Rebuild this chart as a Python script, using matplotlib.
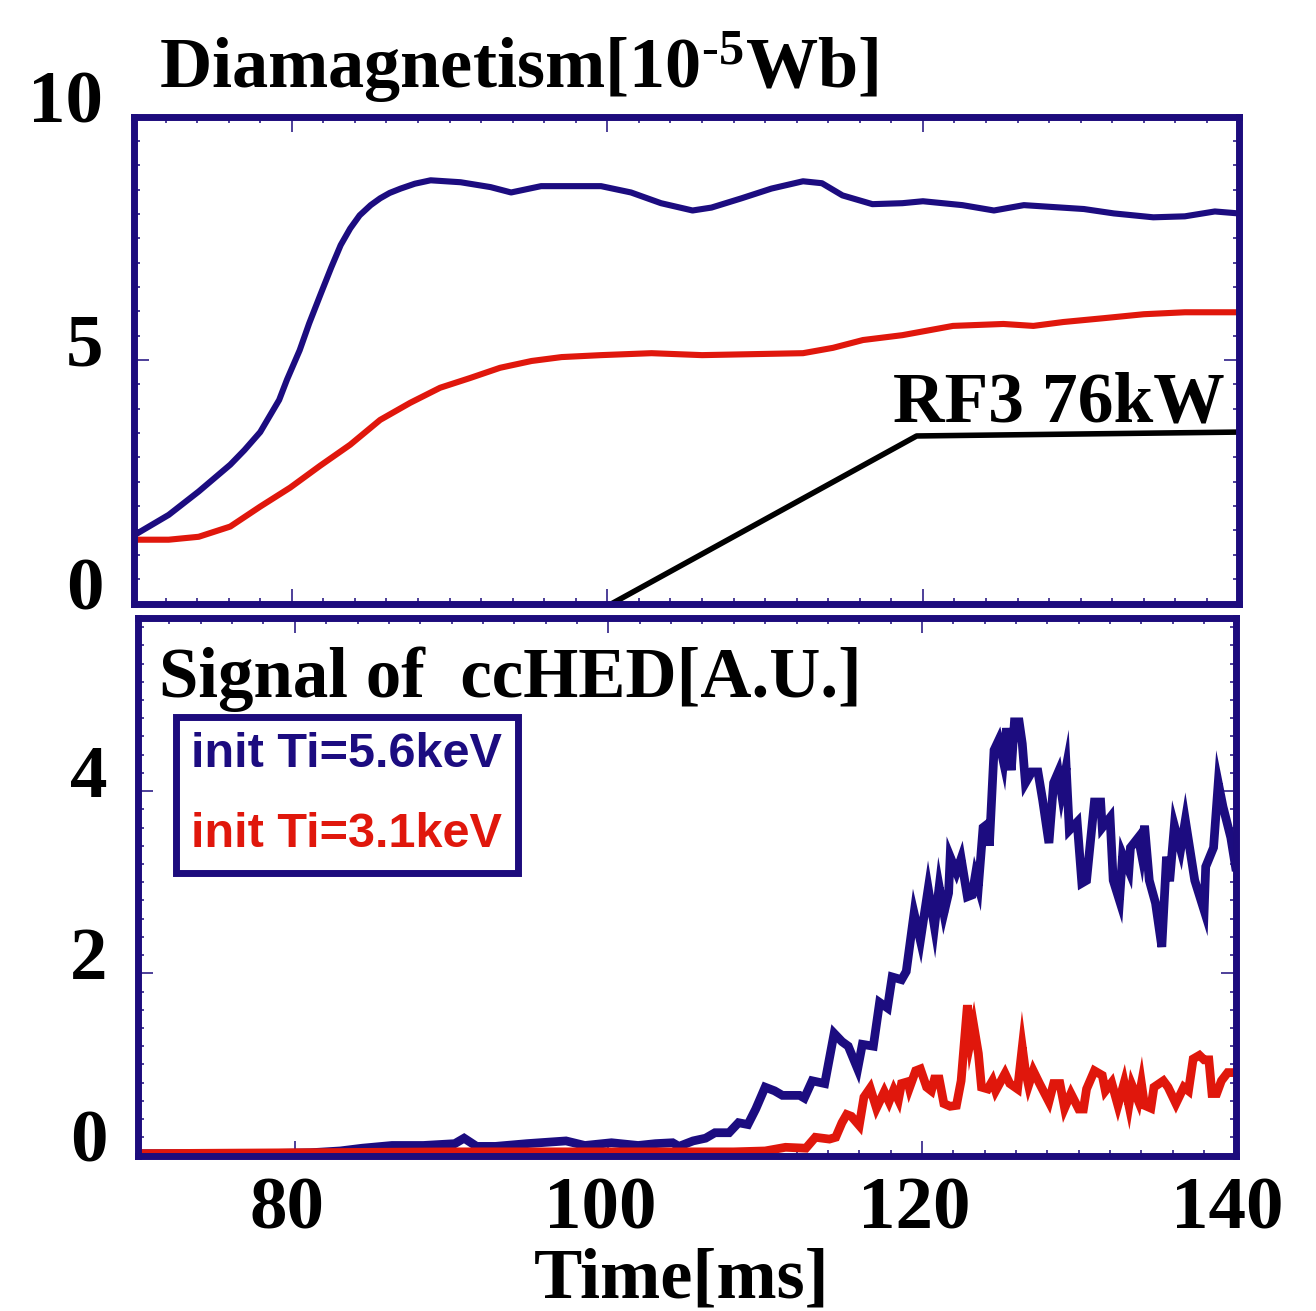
import matplotlib
matplotlib.use('Agg')
import matplotlib.pyplot as plt
import matplotlib.transforms as mtransforms
from matplotlib.ticker import MultipleLocator

NAVY = '#1d0c7d'
BLUE = '#1c0c80'
RED = '#e0170c'

# --- diamagnetism (upper panel) ---
t_dia_hi = [70, 72.2, 74.1, 76.1, 77.0, 78.0, 79.2, 79.7, 80.5, 81.1, 81.8, 82.5, 83.1,
            83.7, 84.3, 85.0, 85.6, 86.2, 86.9, 87.8, 88.8,
            90.7, 92.6, 93.9, 95.8, 97.7, 99.6, 101.5, 103.4, 105.4, 106.6, 108.5, 110.4,
            112.4, 113.6, 114.9, 116.8, 118.7, 120.0, 122.5, 124.5, 126.4, 128.3, 130.2,
            132.1, 134.6, 136.6, 138.5, 140]
dia_hi = [1.40, 1.82, 2.30, 2.85, 3.15, 3.52, 4.18, 4.60, 5.20, 5.75, 6.33, 6.90, 7.36,
          7.70, 7.97, 8.18, 8.32, 8.43, 8.52, 8.62, 8.69,
          8.65, 8.55, 8.44, 8.57, 8.57, 8.57, 8.44, 8.22, 8.07, 8.13, 8.32, 8.52,
          8.67, 8.63, 8.38, 8.20, 8.22, 8.26, 8.18, 8.07, 8.18, 8.14, 8.10,
          8.01, 7.93, 7.95, 8.05, 8.01]

t_dia_lo = [70, 72.2, 74.1, 76.1, 78.0, 79.9, 81.8, 83.7, 85.6, 87.5, 89.4, 91.3, 93.2,
            95.2, 97.1, 99.6, 102.8, 106.0, 109.2, 112.4, 114.3, 116.2, 118.7, 121.9,
            125.1, 127.0, 128.9, 131.5, 134.0, 136.6, 140]
dia_lo = [1.31, 1.31, 1.37, 1.58, 1.99, 2.38, 2.83, 3.26, 3.77, 4.12, 4.43, 4.63, 4.84,
          4.98, 5.06, 5.10, 5.14, 5.10, 5.12, 5.14, 5.25, 5.41, 5.51, 5.70,
          5.74, 5.70, 5.78, 5.86, 5.94, 5.98, 5.98]

# RF power waveform (drawn on the upper panel)
t_rf = [100.3, 119.6, 140]
rf = [0.0, 3.44, 3.52]

# --- ccHED signal (lower panel) ---
t_hed_hi = [70, 74, 78, 81, 82.9, 84.3, 86.2, 88.2, 90.2, 90.8, 91.6, 92.8, 94.8, 97.3,
            98.5, 100.2, 101.9, 103.0, 104.1, 104.5, 105.4, 106.2, 106.8, 107.7, 108.3,
            108.9, 109.4, 110.0, 110.6, 111.1, 112.2, 112.5, 113.0, 113.8, 114.4, 114.9,
            115.3, 115.9, 116.2, 116.9, 117.3, 117.8, 118.1, 118.7, 119.0, 119.5, 119.9,
            120.4, 120.8, 121.1, 121.4, 121.7, 121.8, 122.2, 122.5, 122.9, 123.2, 123.4,
            123.6, 123.9, 124.2, 124.3, 124.6, 124.9, 125.2, 125.4, 125.7, 125.9, 126.2,
            126.4, 126.6, 127.0, 127.4, 127.7, 128.1, 128.4, 128.7, 128.9, 129.2, 129.4,
            129.9, 130.2, 130.5, 131.0, 131.4, 131.5, 132.0, 132.2, 132.6, 132.8, 133.2,
            133.3, 133.8, 134.0, 134.2, 134.5, 134.9, 135.3, 135.6, 135.8, 136.1, 136.5,
            136.8, 137.1, 137.4, 138.0, 138.1, 138.6, 138.9, 139.2, 139.7, 140.0]
hed_hi = [0.02, 0.02, 0.02, 0.03, 0.05, 0.08, 0.11, 0.11, 0.13, 0.19, 0.10, 0.10, 0.13, 0.16,
          0.11, 0.14, 0.11, 0.13, 0.14, 0.10, 0.16, 0.19, 0.25, 0.25, 0.36,
          0.34, 0.51, 0.75, 0.71, 0.66, 0.66, 0.63, 0.82, 0.79, 1.34, 1.25,
          1.20, 0.95, 1.22, 1.20, 1.68, 1.62, 1.96, 1.93, 2.02, 2.66, 2.36,
          2.93, 2.51, 2.95, 2.66, 2.88, 3.28, 3.11, 3.26, 2.84, 2.86, 3.07,
          2.95, 3.60, 3.64, 3.40, 4.45, 4.56, 4.32, 4.69, 4.23, 4.76, 4.76,
          4.52, 4.09, 4.21, 4.21, 3.90, 3.43, 4.09, 4.21, 3.98, 4.26, 3.57,
          3.66, 2.99, 3.02, 3.88, 3.88, 3.60, 3.71, 3.02, 2.80, 3.30, 3.13,
          3.38, 3.49, 3.31, 3.62, 3.02, 2.77, 2.29, 3.28, 3.01, 3.62, 3.36,
          3.68, 3.35, 3.02, 2.69, 3.17, 3.38, 4.09, 3.83, 3.49, 3.17]

t_hed_lo = [70, 80, 90, 100, 108, 110, 111.3, 112.6, 113.2, 114.1, 114.5, 114.9, 115.2,
            115.5, 116.0, 116.3, 116.7, 117.1, 117.6, 117.9, 118.2, 118.5, 118.7, 119.1,
            119.2, 119.6, 119.9, 120.3, 120.6, 120.8, 121.1, 121.4, 121.8, 122.2, 122.5,
            122.9, 123.1, 123.3, 123.6, 123.8, 124.2, 124.5, 124.7, 125.3, 125.6, 126.1,
            126.4, 126.6, 126.8, 127.1, 127.5, 128.1, 128.4, 128.8, 129.1, 129.5, 130.0,
            130.3, 130.5, 131.0, 131.5, 131.7, 132.1, 132.5, 132.9, 133.2, 133.4, 133.8,
            134.0, 134.2, 134.6, 134.8, 135.4, 135.7, 136.2, 136.7, 137.0, 137.3, 137.7,
            138.0, 138.3, 138.5, 138.8, 139.1, 139.5, 140.0]
hed_lo = [0.02, 0.03, 0.04, 0.04, 0.04, 0.05, 0.09, 0.08, 0.20, 0.18, 0.20, 0.36, 0.45,
          0.43, 0.33, 0.64, 0.74, 0.52, 0.70, 0.59, 0.72, 0.61, 0.79, 0.81,
          0.74, 0.93, 0.95, 0.75, 0.71, 0.84, 0.84, 0.57, 0.54, 0.55, 0.82,
          1.65, 1.26, 1.43, 1.12, 0.75, 0.73, 0.82, 0.71, 0.90, 0.79, 0.73,
          1.19, 0.93, 0.77, 0.93, 0.79, 0.59, 0.79, 0.79, 0.52, 0.68, 0.51,
          0.51, 0.73, 0.93, 0.88, 0.71, 0.80, 0.55, 0.80, 0.55, 0.77, 0.60,
          0.79, 0.55, 0.52, 0.75, 0.82, 0.75, 0.57, 0.75, 0.71, 1.06, 1.10,
          1.05, 1.05, 0.68, 0.68, 0.82, 0.91, 0.91]

labels = ['init Ti=5.6keV', 'init Ti=3.1keV']

plt.rcParams['font.family'] = 'Liberation Serif'
plt.rcParams['font.weight'] = 'bold'
plt.rcParams['mathtext.fontset'] = 'custom'
plt.rcParams['mathtext.rm'] = 'Liberation Serif:bold'
plt.rcParams['mathtext.default'] = 'rm'

W, H = 1316, 1311
fig = plt.figure(figsize=(W / 100, H / 100), dpi=100)


def box(l, t, r, b):
    return [l / W, 1 - b / H, (r - l) / W, (b - t) / H]


ax1 = fig.add_axes(box(134, 116.5, 1238.5, 603.5))
ax2 = fig.add_axes(box(138, 618, 1235.5, 1155.5))

for ax in (ax1, ax2):
    ax.set_xlim(70, 140)
    ax.xaxis.set_major_locator(MultipleLocator(20))
    ax.xaxis.set_minor_locator(MultipleLocator(2))
    for sp in ax.spines.values():
        sp.set_linewidth(5)
        sp.set_color(NAVY)
    ax.tick_params(which='both', direction='in', top=True, right=True,
                   color=NAVY, width=1.1, labelsize=54, pad=22)
    ax.tick_params(which='major', length=10.5)
    ax.tick_params(which='minor', length=4.3)

ax1.set_ylim(0, 10)
ax1.yaxis.set_major_locator(MultipleLocator(5))
ax1.yaxis.set_minor_locator(MultipleLocator(0.5))
ax1.tick_params(labelbottom=False)

ax2.set_ylim(0, 5.9)
ax2.yaxis.set_major_locator(MultipleLocator(2))
ax2.yaxis.set_minor_locator(MultipleLocator(0.2))
ax2.tick_params(axis='x', pad=15)

ax1.plot(t_dia_hi, dia_hi, color=BLUE, lw=4.4)
ax1.plot(t_dia_lo, dia_lo, color=RED, lw=4.4)
ax1.plot(t_rf, rf, color='black', lw=4.0, solid_capstyle='butt')
ax1.text(118.1, 3.73, 'RF3 76kW', fontsize=51.5, ha='left', va='baseline')

ax2.plot(t_hed_hi, hed_hi, color=BLUE, lw=6.3, label=labels[0], solid_joinstyle='miter')
ax2.plot(t_hed_lo, hed_lo, color=RED, lw=6.3, label=labels[1], solid_joinstyle='miter')

# shift tick labels like the original
up = mtransforms.ScaledTranslation(0, 0.20, fig.dpi_scale_trans)
left = mtransforms.ScaledTranslation(-0.08, 0, fig.dpi_scale_trans)
fig.canvas.draw()
for ax in (ax1, ax2):
    for lab in ax.get_yticklabels():
        lab.set_transform(lab.get_transform() + up)
for lab in ax2.get_xticklabels():
    lab.set_transform(lab.get_transform() + left)

ax2.set_xlabel('Time[ms]', fontsize=52, fontweight='bold')
ax2.xaxis.set_label_coords(0.4957, -0.2635)
ax2.xaxis.label.set_va('baseline')

fig.text(159 / W, 1 - 88 / H, 'Diamagnetism[10$^{\u20105}$Wb]', fontsize=52,
         ha='left', va='baseline')
fig.text(159 / W, 1 - 697 / H, 'Signal of  ccHED[A.U.]', fontsize=51,
         ha='left', va='baseline')

leg = ax2.legend(loc='upper left', bbox_to_anchor=(0.0342, 0.8167), borderaxespad=0,
                 prop=dict(family='Liberation Sans', weight='bold', size=35),
                 handlelength=0, handletextpad=0, labelcolor='linecolor',
                 fancybox=False, edgecolor=NAVY, borderpad=0.32, labelspacing=0.72)
leg.get_frame().set_linewidth(5)
leg.get_frame().set_alpha(None)
for h in leg.legend_handles:
    h.set_visible(False)

fig.savefig('out.png', dpi=100)
